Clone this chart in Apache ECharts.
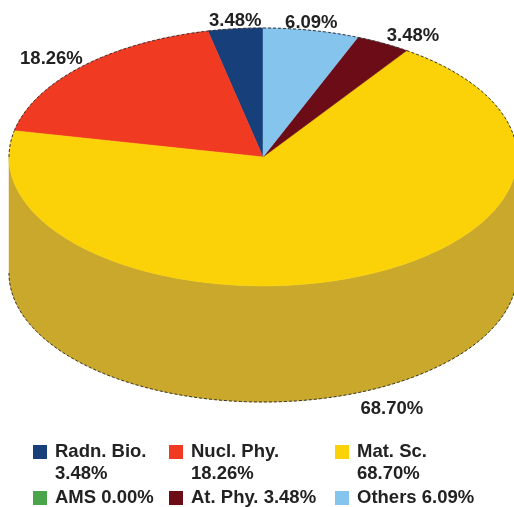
<!DOCTYPE html>
<html>
<head>
<meta charset="utf-8">
<style>
  html, body { margin: 0; padding: 0; background: #fff; }
  #chart { width: 514px; height: 507px; }
</style>
<script src="https://cdn.jsdelivr.net/npm/echarts@6/dist/echarts.min.js"></script>
</head>
<body>
<div id="chart"></div>
<script>
// categories, counter-clockwise from 12 o'clock (same order as the legend)
var names = ['Radn. Bio.', 'Nucl. Phy.', 'Mat. Sc.', 'AMS', 'At. Phy.', 'Others'];
var values = [3.48, 18.26, 68.70, 0.00, 3.48, 6.09];
var colors = ['#173f7a', '#f03a22', '#fbd208', '#4aa54a', '#6b0c16', '#85c4ec'];
var sideColors = ['#10305e', '#b82c1a', '#c9a82c', '#38803a', '#520911', '#669ab8'];
// how far out each label sits, as a multiple of the x / y radius
var labelOutX = [1.0, 1.17, 1.36, 1, 1.25, 1.0];
var labelOutY = [1.07, 1.10, 1.12, 1, 1.08, 1.07];

var depth = 0.9; // height of the cylinder in y-radius units
var font = 'bold 18.5px "Liberation Sans", Arial, sans-serif';
var textColor = '#222';

var total = values.reduce(function (a, b) { return a + b; }, 0);
var chart = echarts.init(document.getElementById('chart'));

function pct(i) {
    return values[i].toFixed(2) + '%';
}

// points on the ellipse, angles in degrees clockwise from the top
function arc(api, from, to, drop) {
    var pts = [];
    var steps = Math.max(1, Math.ceil(to - from));
    for (var i = 0; i <= steps; i++) {
        var t = (from + (to - from) * i / steps) * Math.PI / 180;
        pts.push(api.coord([Math.sin(t), Math.cos(t) - drop]));
    }
    return pts;
}

function rim(api, from, to, drop) {
    if (to <= from) return null;
    return {
        type: 'polyline',
        shape: { points: arc(api, from, to, drop) },
        style: { fill: null, stroke: '#333', lineWidth: 1, lineDash: [3, 2] }
    };
}

function renderSlice(params, api) {
    var i = params.seriesIndex;
    var a0 = api.value(0);
    var a1 = api.value(1);
    var children = [];
    if (a1 > a0) {
        // side wall, front half only
        var s0 = Math.max(a0, 90), s1 = Math.min(a1, 270);
        if (s1 > s0) {
            children.push({
                type: 'polygon',
                shape: { points: arc(api, s0, s1, 0).concat(arc(api, s0, s1, depth).reverse()) },
                style: { fill: sideColors[i], stroke: sideColors[i], lineWidth: 0.5 }
            });
            children.push(rim(api, s0, s1, depth));
        }
        // top face
        children.push({
            type: 'polygon',
            shape: { points: [api.coord([0, 0])].concat(arc(api, a0, a1, 0)) },
            style: { fill: colors[i], stroke: colors[i], lineWidth: 0.5 }
        });
        children.push(rim(api, a0, Math.min(a1, 90), 0));
        children.push(rim(api, Math.max(a0, 270), a1, 0));
        // value label
        var mid = (a0 + a1) / 2 * Math.PI / 180;
        var front = Math.cos(mid) < 0 ? depth : 0;
        var p = api.coord([
            Math.sin(mid) * labelOutX[i],
            Math.cos(mid) * labelOutY[i] - front
        ]);
        children.push({
            type: 'text',
            style: {
                text: pct(i), x: p[0], y: p[1] + 1.5, font: font, fill: textColor,
                textAlign: 'center', textVerticalAlign: 'middle'
            }
        });
    }
    return { type: 'group', children: children.filter(Boolean) };
}

var acc = 0;
var series = names.map(function (name, i) {
    var end = acc + values[i] / total * 360;
    // data runs counter-clockwise, so flip into clockwise angles
    var row = [360 - end, 360 - acc];
    acc = end;
    return {
        name: name,
        type: 'custom',
        coordinateSystem: 'cartesian2d',
        renderItem: renderSlice,
        itemStyle: { color: colors[i] },
        silent: true,
        data: [row]
    };
});

function legendColumn(left, first, second) {
    return {
        left: left,
        top: 419,
        orient: 'vertical',
        padding: 0,
        itemGap: 2,
        itemWidth: 14,
        itemHeight: 14,
        icon: 'rect',
        selectedMode: false,
        data: [names[first], names[second]],
        textStyle: {
            color: textColor,
            fontFamily: '"Liberation Sans", Arial, sans-serif',
            fontWeight: 'bold',
            fontSize: 18.5,
            lineHeight: 22,
            padding: [0, 0, 0, 3]
        },
        formatter: function (name) {
            var i = names.indexOf(name);
            // blank first line keeps the marker level with the name
            return i === first ? '\n' + name + '\n' + pct(i) : name + ' ' + pct(i);
        }
    };
}

chart.setOption({
    animation: false,
    backgroundColor: '#fff',
    // grid stops at the window edge, the ellipse runs slightly past it
    grid: { left: 9, top: 28, width: 505, height: 374 },
    xAxis: { type: 'value', min: -1, max: 0.988, show: false },
    yAxis: { type: 'value', min: -1 - depth, max: 1, show: false },
    legend: [legendColumn(33, 0, 3), legendColumn(169, 1, 4), legendColumn(335, 2, 5)],
    series: series
});
</script>
</body>
</html>
